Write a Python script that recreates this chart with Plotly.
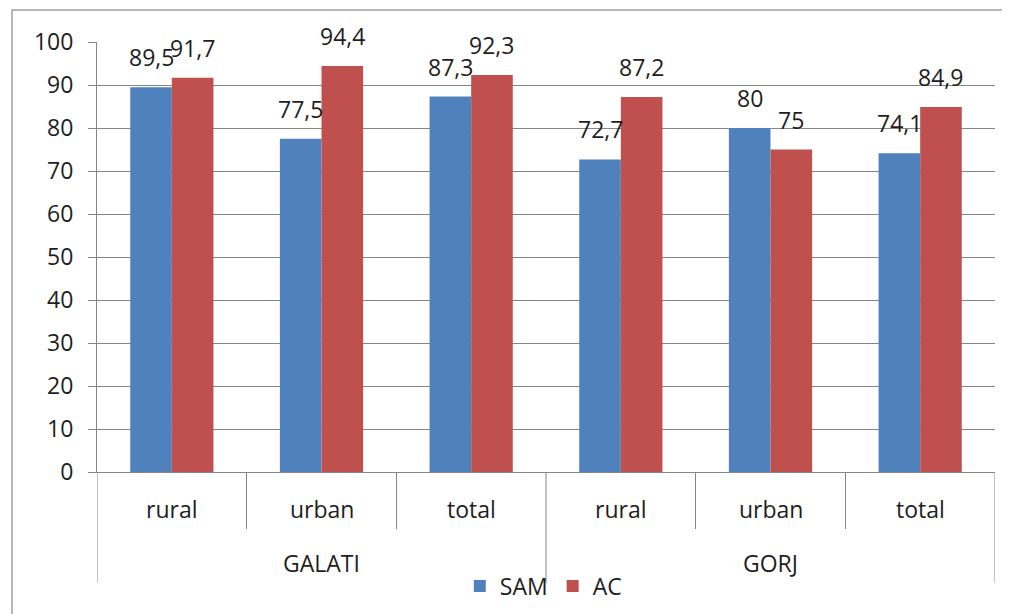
import plotly.graph_objects as go

# data
counties = ["GALATI", "GORJ"]
areas = ["rural", "urban", "total", "rural", "urban", "total"]
sam = [89.5, 77.5, 87.3, 72.7, 80, 74.1]
ac = [91.7, 94.4, 92.3, 87.2, 75, 84.9]
y_ticks = [0, 10, 20, 30, 40, 50, 60, 70, 80, 90, 100]

def lbl(vals):
    return [f"{v:g}".replace(".", ",") for v in vals]

font = "Open Sans"
txt_col = "#1e1e1e"
grid_col = "#868686"
fs = 23

xpos = list(range(len(areas)))
bw = 0.278  # bar width in category units

fig = go.Figure()
fig.add_trace(go.Bar(x=xpos, y=sam, name="SAM", width=bw, offset=-bw,
                     marker=dict(color="#4F81BD", line=dict(width=0))))
fig.add_trace(go.Bar(x=xpos, y=ac, name="AC", width=bw, offset=0,
                     marker=dict(color="#C0504D", line=dict(width=0))))

annotations = []
# value labels above bars
for vals, shift in ((sam, -bw / 2), (ac, bw / 2)):
    for x, v, t in zip(xpos, vals, lbl(vals)):
        annotations.append(dict(x=x + shift, y=v, text=t, showarrow=False, xref="x", yref="y",
                                yanchor="bottom", yshift=12, font=dict(size=fs, color=txt_col)))
# category labels
for x, a in zip(xpos, areas):
    annotations.append(dict(x=x, y=-0.086, xref="x", yref="paper", text=a, showarrow=False,
                            yanchor="middle", font=dict(size=fs, color=txt_col)))
n_sub = len(areas) // len(counties)
for i, c in enumerate(counties):
    annotations.append(dict(x=i * n_sub + (n_sub - 1) / 2, y=-0.212, xref="x", yref="paper",
                            text=c, showarrow=False, yanchor="middle",
                            font=dict(size=fs, color=txt_col)))

shapes = [dict(type="rect", xref="paper", yref="paper", x0=-0.0947, x1=1.2, y0=-0.5, y1=1.0744,
               line=dict(color="#A0A0A0", width=1.5), layer="below")]
# group dividers
for i in range(len(counties) + 1):
    shapes.append(dict(type="line", xref="x", yref="paper", x0=i * n_sub - 0.5, x1=i * n_sub - 0.5,
                       y0=0, y1=-0.258, line=dict(color=grid_col, width=1)))

sub_bounds = [x + 0.5 for x in xpos[:-1] if (x + 1) % n_sub != 0]

fig.update_layout(
    width=1002, height=606,
    margin=dict(l=89, r=15, t=34, b=142, autoexpand=False),
    plot_bgcolor="white", paper_bgcolor="white",
    font=dict(family=font, size=fs, color=txt_col),
    showlegend=True,
    legend=dict(orientation="h", x=0.497, xanchor="center", y=-0.265, yanchor="middle",
                font=dict(size=fs, color=txt_col), bgcolor="rgba(0,0,0,0)"),
    annotations=annotations,
    shapes=shapes,
)
fig.update_xaxes(
    range=[-0.5, len(areas) - 0.5], showline=True, linecolor=grid_col, linewidth=1,
    tickvals=sub_bounds, showticklabels=False, ticks="outside", ticklen=56, tickcolor=grid_col,
    showgrid=False, zeroline=False,
)
fig.update_yaxes(
    range=[0, 100], tickvals=y_ticks, showgrid=True, gridcolor=grid_col, gridwidth=1,
    showline=True, linecolor=grid_col, ticks="outside", ticklen=8, tickcolor=grid_col,
    zeroline=False, ticklabelstandoff=10, tickfont=dict(size=fs, color=txt_col),
)

fig.write_html("out.html")
